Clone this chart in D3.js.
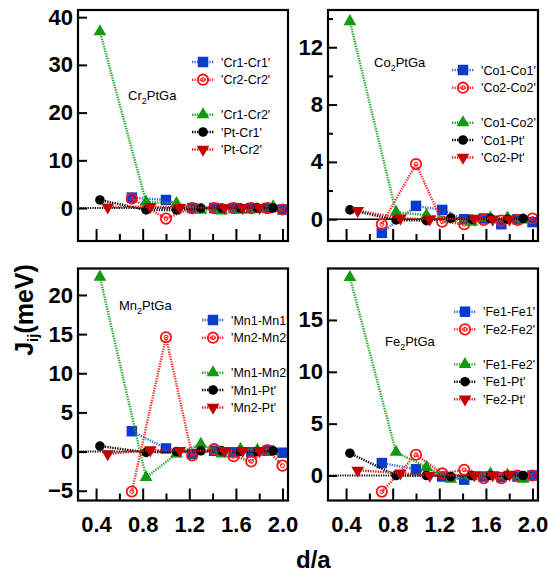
<!DOCTYPE html>
<html>
<head>
<meta charset="utf-8">
<script src="https://cdn.jsdelivr.net/npm/d3@7"></script>
<style>
body { margin: 0; background: #fff; }
text { font-family: "Liberation Sans", Arial, sans-serif; }
</style>
</head>
<body>
<script>
// neighbour shells (d/a)
var shellSame = [0.707, 1.0, 1.225, 1.414, 1.581, 1.732, 1.871, 2.0];
var shellCross = [0.433, 0.829, 1.090, 1.299, 1.479, 1.639, 1.785, 1.920];
var shellPt = [0.5, 0.866, 1.118, 1.5, 1.658, 1.803];

var xTicks = [0.4, 0.8, 1.2, 1.6, 2.0];
var xMinor = [0.6, 1.0, 1.4, 1.8];

// Cr2PtGa
var crLabels = ["'Cr1-Cr1'", "'Cr2-Cr2'", "'Cr1-Cr2'", "'Pt-Cr1'", "'Pt-Cr2'"];
var cr11 = [2.2, 1.7, 0.0, 0.0, 0.0, 0.0, 0.0, -0.3];
var cr22 = [2.0, -2.2, 0.0, 0.0, 0.0, 0.0, 0.0, -0.3];
var cr12 = [37.0, 1.3, 1.0, -0.4, -0.6, -0.4, -0.2, 0.3];
var crPt1 = [1.7, -0.4, -0.4, 0.0, 0.0, 0.0, 0.0, 0.0];
var crPt2 = [0.2, 0.3, 0.1, 0.1, 0.1, 0.1];
var crTicks = [0, 10, 20, 30, 40];

// Co2PtGa
var coLabels = ["'Co1-Co1'", "'Co2-Co2'", "'Co1-Co2'", "'Co1-Pt'", "'Co2-Pt'"];
var co11 = [-0.95, 0.93, 0.65, 0.0, 0.05, -0.35, 0.0, -0.2];
var co22 = [-0.35, 3.85, -0.17, -0.35, -0.05, -0.1, -0.05, 0.05];
var co12 = [13.8, 0.5, 0.28, 0.05, -0.2, 0.1, 0.1, -0.05];
var coPt1 = [0.65, -0.05, -0.1, 0.07, 0.0, 0.05, 0.0, 0.05];
var coPt2 = [0.6, 0.07, 0.0, 0.05, 0.0, 0.0];
var coTicks = [0, 4, 8, 12];
var coMinor = [2, 6, 10, 14];

// Mn2PtGa
var mnLabels = ["'Mn1-Mn1'", "'Mn2-Mn2'", "'Mn1-Mn2'", "'Mn1-Pt'", "'Mn2-Pt'"];
var mn11 = [2.6, 0.4, -0.3, 0.1, -0.1, -0.1, 0.1, -0.15];
var mn22 = [-5.1, 14.6, -0.5, 0.3, -0.6, -1.25, 0.2, -1.8];
var mn12 = [22.3, -3.3, -0.3, 0.95, -0.3, 0.3, 0.2, 0.0];
var mnPt1 = [0.7, -0.1, 0.0, 0.1, 0.1, 0.0, 0.0, 0.1];
var mnPt2 = [-0.3, 0.2, 0.1, 0.1, 0.1, 0.1];
var mnTicks = [-5, 0, 5, 10, 15, 20];

// Fe2PtGa
var feLabels = ["'Fe1-Fe1'", "'Fe2-Fe2'", "'Fe1-Fe2'", "'Fe1-Pt'", "'Fe2-Pt'"];
var fe11 = [1.2, 0.6, -0.1, -0.4, -0.1, -0.15, -0.1, 0.0];
var fe22 = [-1.55, 2.0, 0.2, 0.55, -0.25, -0.25, 0.0, 0.0];
var fe12 = [19.1, 2.25, 0.8, -0.35, -0.1, 0.15, 0.05, -0.35];
var fePt1 = [2.15, 0.0, 0.0, -0.1, 0.0, 0.0, 0.0, 0.0];
var fePt2 = [0.5, 0.23, 0.0, 0.05, 0.05, 0.1];
var feTicks = [0, 5, 10, 15];

var styles = [
    {line: '#3a6ae0', shape: 'square', fill: '#0a3ccc', stroke: 'none'},
    {line: '#ff2a2a', shape: 'ring', fill: 'none', stroke: '#ff1010'},
    {line: '#22a822', shape: 'up', fill: '#119911', stroke: 'none'},
    {line: '#000', shape: 'dot', fill: '#000', stroke: 'none'},
    {line: '#e01818', shape: 'down', fill: '#c40000', stroke: 'none'}
];
var shells = [shellSame, shellSame, shellCross, shellCross, shellPt];
var rowOffsets = [0, 17.7, 52.7, 70, 87.5];

var panels = [
    {x: 78, y: 10, h: 231, dom: [-6.9, 41.5], ticks: crTicks, minor: [], labels: xTicks.map(function() { return ''; }),
     series: [cr11, cr22, cr12, crPt1, crPt2], names: crLabels, el: 'Cr', title: [50, 90], leg: [125, 52], zero: 'dot'},
    {x: 328, y: 10, h: 231, dom: [-1.52, 14.6], ticks: coTicks, minor: coMinor, labels: xTicks.map(function() { return ''; }),
     series: [co11, co22, co12, coPt1, coPt2], names: coLabels, el: 'Co', title: [46, 57], leg: [135, 60], zero: 'solid'},
    {x: 78, y: 268.5, h: 232, dom: [-6.25, 23.38], ticks: mnTicks, minor: [], labels: xTicks.map(function(d) { return d.toFixed(1); }),
     series: [mn11, mn22, mn12, mnPt1, mnPt2], names: mnLabels, el: 'Mn', title: [41, 41.5], leg: [135, 51.5], zero: 'dot'},
    {x: 328, y: 268.5, h: 232, dom: [-2.41, 19.96], ticks: feTicks, minor: [], labels: xTicks.map(function(d) { return d.toFixed(1); }),
     series: [fe11, fe22, fe12, fePt1, fePt2], names: feLabels, el: 'Fe', title: [57, 77.5], leg: [137, 43.2], zero: 'dot'}
];

var W = 210;
var svg = d3.select('body').append('svg')
    .attr('width', 548)
    .attr('height', 574);

var x = d3.scaleLinear().domain([0.245, 2.047]).range([0, W]);

function drawMarker(sel, st) {
    if (st.shape == 'ring') {
        sel.append('circle').attr('r', 5.2).attr('fill', 'none').attr('stroke', st.stroke).attr('stroke-width', 1.8);
        sel.append('circle').attr('r', 2).attr('fill', 'none').attr('stroke', st.stroke).attr('stroke-width', 1);
        return;
    }
    var type = d3.symbolSquare, size = 110, rot = 0;
    if (st.shape == 'dot') { type = d3.symbolCircle; size = 72; }
    if (st.shape == 'up') { type = d3.symbolTriangle; size = 70; }
    if (st.shape == 'down') { type = d3.symbolTriangle; size = 70; rot = 180; }
    sel.append('path')
        .attr('d', d3.symbol().type(type).size(size))
        .attr('transform', 'rotate(' + rot + ')')
        .attr('fill', st.fill);
}

panels.forEach(function(p) {
    var g = svg.append('g').attr('transform', 'translate(' + [p.x, p.y] + ')');
    var y = d3.scaleLinear().domain(p.dom).range([p.h, 0]);

    // zero line
    g.append('line')
        .attr('x1', 0).attr('x2', W)
        .attr('y1', y(0)).attr('y2', y(0))
        .attr('stroke', '#000')
        .attr('stroke-width', p.zero == 'solid' ? 1.6 : 2)
        .attr('stroke-dasharray', p.zero == 'solid' ? null : '1.2,1.2');

    // axes
    var ya = g.append('g')
        .call(d3.axisLeft(y).tickValues(p.ticks).tickSizeInner(-9).tickSizeOuter(0).tickPadding(5));
    ya.select('.domain').remove();
    ya.selectAll('line').attr('stroke-width', 2);
    ya.selectAll('text').attr('font-size', 22).attr('font-weight', 'bold').attr('fill', '#000');

    if (p.minor.length) {
        var ym = g.append('g')
            .call(d3.axisLeft(y).tickValues(p.minor).tickSizeInner(-5).tickSizeOuter(0).tickFormat(''));
        ym.select('.domain').remove();
        ym.selectAll('line').attr('stroke-width', 2);
    }

    var xa = g.append('g')
        .attr('transform', 'translate(0,' + p.h + ')')
        .call(d3.axisBottom(x).tickValues(xTicks).tickSizeInner(-12).tickSizeOuter(0).tickPadding(16)
            .tickFormat(function(d, i) { return p.labels[i]; }));
    xa.select('.domain').remove();
    xa.selectAll('line').attr('stroke-width', 2);
    xa.selectAll('text').attr('font-size', 22).attr('font-weight', 'bold').attr('fill', '#000');

    var xm = g.append('g')
        .attr('transform', 'translate(0,' + p.h + ')')
        .call(d3.axisBottom(x).tickValues(xMinor).tickSizeInner(-7).tickSizeOuter(0).tickFormat(''));
    xm.select('.domain').remove();
    xm.selectAll('line').attr('stroke-width', 2);

    // series
    p.series.forEach(function(vals, k) {
        var st = styles[k];
        var pts = vals.map(function(v, i) { return [shells[k][i], v]; });
        g.append('path')
            .datum(pts)
            .attr('fill', 'none')
            .attr('stroke', st.line)
            .attr('stroke-width', 2.4)
            .attr('stroke-dasharray', '1.3,1.2')
            .attr('d', d3.line().x(function(d) { return x(d[0]); }).y(function(d) { return y(d[1]); }));
        var m = g.selectAll('.m' + k)
            .data(pts)
            .enter()
            .append('g')
            .attr('class', 'm' + k)
            .attr('transform', function(d) { return 'translate(' + [x(d[0]), y(d[1])] + ')'; });
        m.each(function() { drawMarker(d3.select(this), st); });
    });

    // frame
    g.append('rect')
        .attr('width', W).attr('height', p.h)
        .attr('fill', 'none')
        .attr('stroke', '#000')
        .attr('stroke-width', 2.2);

    // compound name
    var t = g.append('text')
        .attr('x', p.title[0]).attr('y', p.title[1])
        .attr('font-size', 13);
    t.append('tspan').text(p.el);
    t.append('tspan').attr('font-size', 9).attr('dy', 4).text('2');
    t.append('tspan').attr('dy', -4).text('PtGa');

    // legend
    var leg = g.selectAll('.leg')
        .data(p.names)
        .enter()
        .append('g')
        .attr('class', 'leg')
        .attr('transform', function(d, i) { return 'translate(' + [p.leg[0], p.leg[1] + rowOffsets[i]] + ')'; });
    leg.append('line')
        .attr('x1', -11).attr('x2', 11)
        .attr('stroke', function(d, i) { return styles[i].line; })
        .attr('stroke-width', 2.4)
        .attr('stroke-dasharray', '1.3,1.2');
    leg.each(function(d, i) { drawMarker(d3.select(this), styles[i]); });
    leg.append('text')
        .attr('x', 18)
        .attr('y', 4.5)
        .attr('font-size', 12.5)
        .text(function(d) { return d; });
});

// axis titles
var yt = svg.append('text')
    .attr('transform', 'translate(33,310) rotate(-90)')
    .attr('text-anchor', 'middle')
    .attr('font-size', 25)
    .attr('font-weight', 'bold');
yt.append('tspan').text('J');
yt.append('tspan').attr('font-size', 15).attr('dy', 5).text('ij');
yt.append('tspan').attr('dy', -5).text('(meV)');

svg.append('text')
    .attr('x', 296)
    .attr('y', 568)
    .attr('font-size', 24)
    .attr('font-weight', 'bold')
    .text('d/a');
</script>
</body>
</html>
